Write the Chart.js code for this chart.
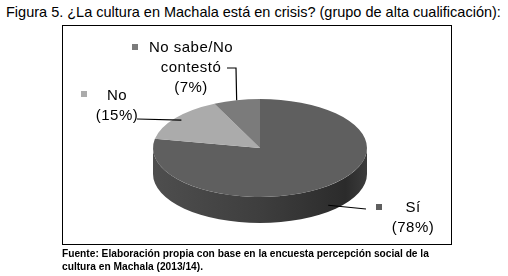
<!DOCTYPE html>
<html>
<head>
<meta charset="utf-8">
<script src="https://cdn.jsdelivr.net/npm/chart.js@4.4.1/dist/chart.umd.min.js"></script>
<style>
  body { margin: 0; background: #fff; width: 508px; height: 276px; overflow: hidden; position: relative;
         font-family: "Liberation Sans", Arial, sans-serif; color: #000; }
  #titulo { position: absolute; left: 6px; top: 4px; font-size: 14.5px; line-height: 16px; white-space: nowrap; }
  #marco { position: absolute; left: 62px; top: 25px; width: 388px; height: 218px; border: 1px solid #000; }
  #grafico { position: absolute; left: 0; top: 0; }
  #fuente { position: absolute; left: 62px; top: 247px; font-size: 10.2px; line-height: 13px; font-weight: bold; white-space: nowrap; }
</style>
</head>
<body>
<div id="titulo">Figura 5. ¿La cultura en Machala está en crisis? (grupo de alta cualificación):</div>
<div id="marco"></div>
<canvas id="grafico" width="508" height="276"></canvas>
<div id="fuente">Fuente: Elaboración propia con base en la encuesta percepción social de la<br>cultura en Machala (2013/14).</div>
<script>
// datos
const categorias = ['Sí', 'No', 'No sabe/No contestó'];
const porcentajes = [78, 15, 7];
const lineasEtiqueta = [['Sí', '(78%)'], ['No', '(15%)'], ['No sabe/No', 'contestó', '(7%)']];

// estilo
const colores = ['#5f5f5f', '#ababab', '#7b7b7b'];
const APLASTE = 0.458;   // alto/ancho de la elipse
const CENTRO_Y = 148;
const GROSOR = 26;

// donde va cada etiqueta (texto, cuadrito, linea guia)
const etiquetasPos = [
    {x: 413, y: 208, marca: [376, 204], guia: [[366, 209]], frente: true},
    {x: 117, y: 96, marca: [81, 91], guia: [[137, 119]], frente: false},
    {x: 191, y: 48, marca: [132, 44], guia: [[227, 68], [236, 68]], frente: false}
];

const pastel3d = {
    id: 'pastel3d',
    beforeDatasetsDraw(chart) {
        const ctx = chart.ctx;
        const arcos = chart.getDatasetMeta(0).data;
        const cx = arcos[0].x, cy = arcos[0].y, r = arcos[0].outerRadius;
        const ry = r * APLASTE;
        // costado visible (mitad de abajo)
        const grad = ctx.createLinearGradient(cx - r, 0, cx + r, 0);
        grad.addColorStop(0, '#4e4e4e');
        grad.addColorStop(0.5, '#3e3e3e');
        grad.addColorStop(0.9, '#2b2b2b');
        grad.addColorStop(1, '#3c3c3c');
        arcos.forEach((arco, i) => {
            for (let k = -1; k <= 1; k++) {
                const lo = Math.max(arco.startAngle, k * 2 * Math.PI);
                const hi = Math.min(arco.endAngle, k * 2 * Math.PI + Math.PI);
                if (hi <= lo) continue;
                ctx.save();
                ctx.beginPath();
                ctx.ellipse(cx, CENTRO_Y, r, ry, 0, lo, hi);
                ctx.ellipse(cx, CENTRO_Y + GROSOR, r, ry, 0, hi, lo, true);
                ctx.closePath();
                ctx.fillStyle = i === 0 ? grad : colores[i];
                ctx.fill();
                ctx.restore();
            }
        });
        ctx.save();
        ctx.translate(cx, CENTRO_Y);
        ctx.scale(1, APLASTE);
        ctx.translate(-cx, -cy);
    },
    afterDatasetsDraw(chart) {
        chart.ctx.restore();
    },
    afterDraw(chart) {
        const ctx = chart.ctx;
        const arcos = chart.getDatasetMeta(0).data;
        ctx.save();
        ctx.font = '15px "Liberation Sans", Arial, sans-serif';
        ctx.letterSpacing = '0.5px';
        ctx.textAlign = 'center';
        ctx.textBaseline = 'middle';
        ctx.fillStyle = '#000';
        arcos.forEach((arco, i) => {
            const p = etiquetasPos[i];
            const mid = (arco.startAngle + arco.endAngle) / 2;
            const rr = arco.outerRadius * (i === 1 ? 0.93 : 1);
            const ax = arco.x + rr * Math.cos(mid);
            const ay = CENTRO_Y + rr * APLASTE * Math.sin(mid) + (p.frente ? GROSOR * 0.75 : 0);
            ctx.beginPath();
            if (p.frente) {
                ctx.moveTo(ax, ay);
                p.guia.forEach(q => ctx.lineTo(q[0], q[1]));
            } else {
                ctx.moveTo(p.guia[0][0], p.guia[0][1]);
                p.guia.slice(1).forEach(q => ctx.lineTo(q[0], q[1]));
                ctx.lineTo(ax, ay);
            }
            ctx.strokeStyle = '#000';
            ctx.lineWidth = 1.2;
            ctx.stroke();
            ctx.fillStyle = colores[i];
            ctx.fillRect(p.marca[0], p.marca[1], 6, 6);
            ctx.fillStyle = '#000';
            lineasEtiqueta[i].forEach((t, j) => ctx.fillText(t, p.x, p.y + j * 20));
        });
        ctx.restore();
    }
};

new Chart(document.getElementById('grafico'), {
    type: 'pie',
    data: {
        labels: categorias,
        datasets: [{
            data: porcentajes,
            backgroundColor: colores,
            borderWidth: 0,
            hoverOffset: 0
        }]
    },
    options: {
        responsive: false,
        animation: false,
        events: [],
        layout: { padding: { left: 153, right: 141, top: 40, bottom: 22 } },
        plugins: {
            legend: { display: false },
            tooltip: { enabled: false }
        }
    },
    plugins: [pastel3d]
});
</script>
</body>
</html>
